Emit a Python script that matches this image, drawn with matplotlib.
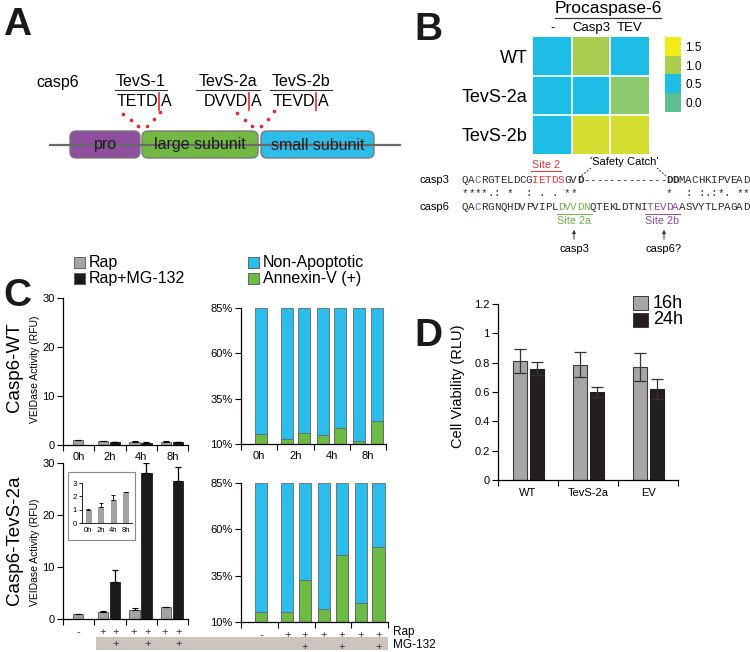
import numpy as np
import matplotlib
matplotlib.use('Agg')
import matplotlib.pyplot as plt
from matplotlib.patches import Rectangle, FancyBboxPatch
from matplotlib.colors import LinearSegmentedColormap

plt.rcParams['font.family'] = ['Liberation Sans', 'DejaVu Sans']

W, H = 750, 652

# ---- data ----
time_labels = ['0h', '2h', '4h', '8h']
wt_rap = [1.0, 0.8, 0.7, 0.7]
wt_rap_err = [0.1, 0.08, 0.05, 0.05]
wt_mg = [0.6, 0.5, 0.6]          # 2h, 4h, 8h
wt_mg_err = [0.05, 0.05, 0.05]
tev_rap = [1.0, 1.3, 1.7, 2.3]
tev_rap_err = [0.05, 0.3, 0.4, 0.08]
tev_mg = [7.2, 28.0, 26.6]
tev_mg_err = [2.3, 2.0, 2.7]
inset_vals = [1.0, 1.2, 1.7, 2.3]
inset_err = [0.05, 0.3, 0.4, 0.05]

annex_wt = [15.5, 12.6, 16.1, 15.0, 19.0, 11.5, 22.7]
annex_tev = [15.3, 15.4, 32.8, 17.1, 46.4, 20.5, 50.2]
rap_marks = ['-', '+', '+', '+', '+', '+', '+']
mg_marks = ['', '', '+', '', '+', '', '+']

heat_rows = ['WT', 'TevS-2a', 'TevS-2b']
heat_cols = ['-', 'Casp3', 'TEV']
heat_vals = [[0.5, 1.0, 0.5],
             [0.5, 0.5, 0.9],
             [0.5, 1.3, 1.3]]
cbar_levels = [1.5, 1.0, 0.5, 0.0]

via_groups = ['WT', 'TevS-2a', 'EV']
via_16h = [0.81, 0.785, 0.77]
via_16h_err = [0.08, 0.085, 0.095]
via_24h = [0.76, 0.60, 0.62]
via_24h_err = [0.045, 0.035, 0.07]

casp3_seq = 'QACRGTELDCGIETDSGVD-------------DDMACHKIPVEAD'
casp6_seq = 'QACRGNQHDVPVIPLDVVDNQTEKLDTNITEVDAASVYTLPAGAD'
cons_marks = {0: '*', 1: '*', 2: '*', 3: '*', 4: '.', 5: ':', 7: '*', 10: ':',
              12: '.', 14: '.', 16: '*', 17: '*', 32: '*', 35: ':', 37: ':',
              38: '.', 39: ':', 40: '*', 41: '.', 43: '*', 44: '*'}

GRAY = '#a3a3a3'
BLACK = '#1c1a1b'
BLUE = '#2bbdec'
GREEN = '#6cbb45'

fig = plt.figure(figsize=(W / 100, H / 100), dpi=100)
fig.patch.set_facecolor('white')


def rect(x0, y0, x1, y1):
    return [x0 / W, 1 - y1 / H, (x1 - x0) / W, (y1 - y0) / H]


# overlay in pixel coords for the schematic bits
ax0 = fig.add_axes([0, 0, 1, 1])
ax0.set_xlim(0, W)
ax0.set_ylim(H, 0)
ax0.axis('off')
ax0.set_zorder(-1)


def T(x, y, s, **kw):
    kw.setdefault('ha', 'center')
    kw.setdefault('va', 'center')
    return ax0.text(x, y, s, **kw)


def hline(x0, x1, y, c='#333333', lw=0.8):
    ax0.plot([x0, x1], [y, y], color=c, lw=lw)


# panel letters
for lab, x, y in [('A', 3, 25), ('B', 414, 30), ('C', 3, 296), ('D', 414, 336)]:
    T(x, y, lab, ha='left', fontsize=28, fontweight='bold', color='#1a1a1a')

# ---------------- A ----------------
T(36, 83, 'casp6', ha='left', fontsize=11.5)
hline(50, 400, 145, c='#6a6a6a', lw=1.6)
domains = [('pro', 70, 140, '#8d4f9e'), ('large subunit', 142, 258, '#73b843'),
           ('small subunit', 261, 374, '#2cbdea')]
for name, xa, xb, col in domains:
    ax0.add_patch(FancyBboxPatch((xa, 131), xb - xa, 27,
                                 boxstyle='round,pad=0,rounding_size=6',
                                 fc=col, ec='#7a7a7a', lw=1.0))
    T((xa + xb) / 2, 145, name, fontsize=11.5, color='#1a1a1a')

sites = [('TevS-1', 141, 'TETD', 159, 26), ('TevS-2a', 228, 'DVVD', 249, 32),
         ('TevS-2b', 301, 'TEVD', 316, 31)]
for name, cx, motif, cut, half in sites:
    T(cx, 81, name, fontsize=11.5)
    hline(cx - half, cx + half, 90, lw=0.8)
    T(cut - 1, 101, motif, ha='right', fontsize=11.5)
    T(cut + 1.5, 101, 'A', ha='left', fontsize=11.5)
    ax0.plot([cut, cut], [93, 110], color='#e8262d', lw=1.2)

for (xa, ya), (xb, yb) in [((123, 114), (138, 126)), ((147, 126), (160, 112)),
                           ((237, 113), (252, 126)), ((261, 126), (274, 111))]:
    ax0.plot(np.linspace(xa, xb, 3), np.linspace(ya, yb, 3), 'o', ms=2.6,
             color='#e8262d', mec='none')

# ---------------- B ----------------
T(608, 9, 'Procaspase-6', fontsize=12.5)
hline(555, 661, 18, lw=0.9)

axh = fig.add_axes(rect(533, 37, 649, 154))
cmap = LinearSegmentedColormap.from_list(
    'casp', [(0, '#5fbe98'), (1 / 3, '#1ebde6'), (2 / 3, '#a9cd4f'), (1, '#f3ea1c')])
axh.imshow(np.array(heat_vals), cmap=cmap, vmin=0, vmax=1.5, aspect='auto',
           extent=(0, 3, 3, 0), interpolation='nearest')
for k in (1, 2):
    axh.axvline(k, color='white', lw=1.2)
    axh.axhline(k, color='white', lw=1.2)
axh.set_xlim(0, 3)
axh.set_ylim(3, 0)
axh.set_xticks(np.arange(3) + 0.5)
axh.set_xticklabels(heat_cols, fontsize=9.5)
axh.xaxis.tick_top()
axh.set_yticks(np.arange(3) + 0.5)
axh.set_yticklabels(heat_rows, fontsize=13)
axh.tick_params(length=0, pad=4)
axh.tick_params(axis='x', pad=2)
for s in axh.spines.values():
    s.set_visible(False)

axc = fig.add_axes(rect(665, 37, 681, 112))
axc.imshow(np.array(cbar_levels)[:, None], cmap=cmap, vmin=0, vmax=1.5,
           aspect='auto', extent=(0, 1, len(cbar_levels), 0))
axc.set_xticks([])
axc.set_yticks(np.arange(len(cbar_levels)) + 0.5)
axc.set_yticklabels(['%.1f' % v for v in cbar_levels], fontsize=8.5)
axc.yaxis.tick_right()
axc.tick_params(length=0, pad=3)
for s in axc.spines.values():
    s.set_visible(False)

# alignment
sx0, cw = 462, 6.38
mono = 'Liberation Mono'
c3_col = {2: '#4b6fb3'}
c3_col.update({i: '#e2343c' for i in range(11, 16)})
c6_col = {2: '#4b6fb3'}
c6_col.update({i: '#74b04b' for i in range(15, 20)})
c6_col.update({i: '#8b4a9c' for i in range(29, 34)})
c3_bold = {18, 32, 33}
for i, ch in enumerate(casp3_seq):
    T(sx0 + (i + 0.5) * cw, 180, ch, family=mono, fontsize=7.8,
      color=c3_col.get(i, '#2a2a2a'), fontweight='bold' if i in c3_bold else 'normal')
for i, ch in enumerate(casp6_seq):
    T(sx0 + (i + 0.5) * cw, 207, ch, family=mono, fontsize=7.8,
      color=c6_col.get(i, '#2a2a2a'))
for i, ch in cons_marks.items():
    T(sx0 + (i + 0.5) * cw, 193, ch, family=mono, fontsize=7.8, color='#2a2a2a')
T(420, 180, 'casp3', ha='left', fontsize=8)
T(420, 207, 'casp6', ha='left', fontsize=8)

T(546, 165, 'Site 2', fontsize=7.8, color='#e2343c')
hline(531, 561, 171, c='#e2343c', lw=0.7)
T(574, 221, 'Site 2a', fontsize=7.8, color='#74b04b')
hline(557, 592, 214, c='#74b04b', lw=0.7)
T(662, 221, 'Site 2b', fontsize=7.8, color='#8b4a9c')
hline(645, 680, 214, c='#8b4a9c', lw=0.7)
T(624, 162, "'Safety Catch'", fontsize=8)
ax0.plot([591, 580], [168, 177], color='#333333', lw=0.7, ls=(0, (2, 1.5)))
ax0.plot([657, 667], [168, 177], color='#333333', lw=0.7, ls=(0, (2, 1.5)))
T(574, 249, 'casp3', fontsize=8)
T(664, 249, 'casp6?', fontsize=8)
for xa in (574, 664):
    ax0.annotate('', xy=(xa, 227), xytext=(xa, 242),
                 arrowprops=dict(arrowstyle='-|>', color='#333333', lw=0.7,
                                 mutation_scale=5))

# ---------------- C ----------------
for y, col, lab in [(263, GRAY, 'Rap'), (279, BLACK, 'Rap+MG-132')]:
    ax0.add_patch(Rectangle((74, y - 6), 11, 11, fc=col, ec='#555555', lw=0.6))
    T(89, y, lab, ha='left', fontsize=11.5)
for y, col, lab in [(263, BLUE, 'Non-Apoptotic'), (279, GREEN, 'Annexin-V (+)')]:
    ax0.add_patch(Rectangle((248, y - 6), 11, 11, fc=col, ec='#555555', lw=0.6))
    T(263, y, lab, ha='left', fontsize=11.5)

T(15, 367, 'Casp6-WT', rotation=90, fontsize=13.5)
T(15, 540, 'Casp6-TevS-2a', rotation=90, fontsize=13.5)
T(35, 369, 'VEIDase Activity (RFU)', rotation=90, fontsize=7.5)
T(35, 552, 'VEIDase Activity (RFU)', rotation=90, fontsize=7.5)


def style(ax, lab=8):
    ax.set_facecolor('none')
    for s in ('top', 'right'):
        ax.spines[s].set_visible(False)
    for s in ('left', 'bottom'):
        ax.spines[s].set_linewidth(0.9)
    ax.tick_params(labelsize=lab, length=4, width=0.8, direction='out', pad=2)


centers = np.arange(4) + 0.5
bw = 0.33


def activity(ax, rap, rap_err, mg, mg_err, labels):
    ax.bar(0.48, rap[0], bw, color=GRAY, ec='#555555', lw=0.6,
           yerr=[[0], [rap_err[0]]], error_kw=dict(lw=0.8, capsize=2.5, capthick=0.8))
    ax.bar(centers[1:] - 0.21, rap[1:], bw, color=GRAY, ec='#555555', lw=0.6,
           yerr=[[0] * 3, rap_err[1:]], error_kw=dict(lw=0.8, capsize=2.5, capthick=0.8))
    ax.bar(centers[1:] + 0.17, mg, bw, color=BLACK, ec=BLACK, lw=0.6,
           yerr=[[0] * 3, mg_err], error_kw=dict(lw=0.9, capsize=2.5, capthick=0.9))
    ax.set_xlim(0, 4)
    ax.set_ylim(0, 30)
    ax.set_yticks([0, 10, 20, 30])
    ax.set_xticks(np.arange(5))
    ax.set_xticklabels([])
    ax.set_xticks(centers, minor=True)
    ax.set_xticklabels(labels, minor=True)
    style(ax)
    ax.tick_params(axis='x', which='minor', length=0, pad=5, labelsize=8)


ax_tl = fig.add_axes(rect(63, 298, 188, 445))
activity(ax_tl, wt_rap, wt_rap_err, wt_mg, wt_mg_err, time_labels)
ax_bl = fig.add_axes(rect(63, 463, 188, 619))
activity(ax_bl, tev_rap, tev_rap_err, tev_mg, tev_mg_err, [''] * 4)

# inset
ax0.add_patch(Rectangle((68, 472), 67, 68, fc='white', ec='#8a8a8a', lw=0.8))
ax_in = fig.add_axes(rect(82, 483, 132, 523))
ax_in.bar(centers, inset_vals, 0.42, color=GRAY, ec='#777777', lw=0.4,
          yerr=[[0] * 4, inset_err], error_kw=dict(lw=0.6, capsize=1.2, capthick=0.6))
ax_in.set_xlim(0, 4)
ax_in.set_ylim(0, 3)
ax_in.set_yticks([0, 1, 2, 3])
ax_in.set_xticks(centers)
ax_in.set_xticklabels(time_labels)
style(ax_in, lab=5.5)
ax_in.tick_params(length=2, width=0.6, pad=1.5)
ax_in.tick_params(axis='x', length=0, pad=3)
for s in ('left', 'bottom'):
    ax_in.spines[s].set_linewidth(0.6)

# stacked annexin bars
bar_x = np.array([0.55, 1.26, 1.74, 2.26, 2.74, 3.26, 3.74])
sw = 0.33


def annexin(ax, vals, labels):
    vals = np.array(vals)
    ax.bar(bar_x, vals - 10, sw, bottom=10, color=GREEN, ec='#555555', lw=0.6)
    ax.bar(bar_x, 85 - vals, sw, bottom=vals, color=BLUE, ec='#6a6a6a', lw=0.6)
    ax.set_xlim(0, 4)
    ax.set_ylim(10, 85)
    ax.set_yticks([10, 35, 60, 85])
    ax.set_yticklabels(['10%', '35%', '60%', '85%'])
    ax.set_xticks(np.arange(5))
    ax.set_xticklabels([])
    ax.set_xticks(centers, minor=True)
    ax.set_xticklabels(labels, minor=True)
    style(ax)
    ax.tick_params(axis='x', which='minor', length=0, pad=5, labelsize=8)


ax_tr = fig.add_axes(rect(241, 308, 386, 444))
annexin(ax_tr, annex_wt, time_labels)
ax_br = fig.add_axes(rect(241, 483, 388, 622))
annexin(ax_br, annex_tev, [''] * 4)

# treatment rows
ax0.add_patch(Rectangle((96, 637), 292, 13, fc='#cbc4bf', ec='none'))
left_x = [0.48] + [c + d for c in centers[1:] for d in (-0.24, 0.2)]
left_rap = ['-', '+', '+', '+', '+', '+', '+']
left_mg = ['', '', '+', '', '+', '', '+']
for ax, xs, rr, mm in [(ax_bl, left_x, left_rap, left_mg), (ax_br, bar_x, rap_marks, mg_marks)]:
    h = ax.get_position().height * H
    for x, r, m in zip(xs, rr, mm):
        ax.text(x, -13 / h, r, transform=ax.get_xaxis_transform(), ha='center',
                va='center', fontsize=8, color='#333333')
        if m:
            ax.text(x, -25 / h, m, transform=ax.get_xaxis_transform(), ha='center',
                    va='center', fontsize=8, color='#333333')
T(393, 632, 'Rap', ha='left', fontsize=8.5)
T(393, 645, 'MG-132', ha='left', fontsize=8.5)

# ---------------- D ----------------
axd = fig.add_axes(rect(498, 304, 678, 480))
gx = np.arange(3) + 0.5
axd.bar(gx - 0.135, via_16h, 0.23, color='#a6a6a6', ec='#3a3a3a', lw=0.8,
        yerr=via_16h_err, error_kw=dict(lw=0.9, capsize=4, capthick=0.9, ecolor='#333333'))
axd.bar(gx + 0.15, via_24h, 0.23, color='#231f20', ec='#231f20', lw=0.8,
        yerr=via_24h_err, error_kw=dict(lw=0.9, capsize=4, capthick=0.9, ecolor='#333333'))
axd.set_xlim(0, 3)
axd.set_ylim(0, 1.2)
axd.set_yticks([0, 0.2, 0.4, 0.6, 0.8, 1.0, 1.2])
axd.set_yticklabels(['0', '0.2', '0.4', '0.6', '0.8', '1', '1.2'])
axd.set_xticks(np.arange(4))
axd.set_xticklabels([])
axd.set_xticks(gx, minor=True)
axd.set_xticklabels(via_groups, minor=True)
style(axd)
axd.tick_params(axis='x', which='minor', length=0, pad=6, labelsize=8)
T(458, 386, 'Cell Viability (RLU)', rotation=90, fontsize=10.5)
for y, col, lab in [(303, '#a6a6a6', '16h'), (320, '#231f20', '24h')]:
    ax0.add_patch(Rectangle((633, y - 7), 15, 14, fc=col, ec='#3a3a3a', lw=0.7))
    T(653, y, lab, ha='left', fontsize=13)

fig.savefig('out.png', dpi=100)
